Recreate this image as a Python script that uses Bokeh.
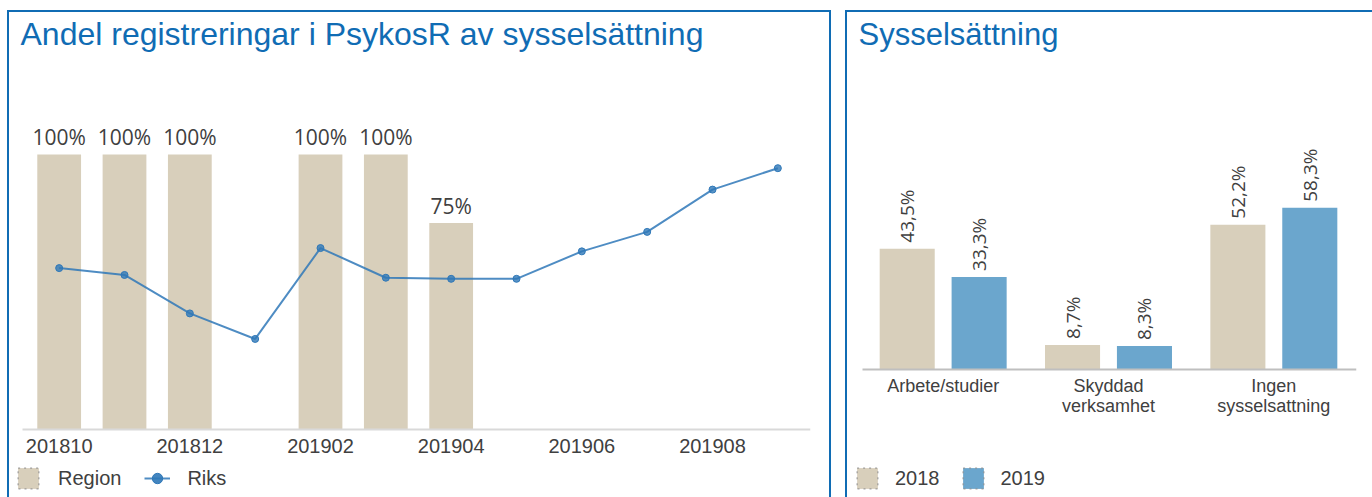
import math
from bokeh.plotting import figure
from bokeh.models import (ColumnDataSource, Range1d, Legend, LegendItem, LinearAxis,
                          FixedTicker)
from bokeh.layouts import row
from bokeh.embed import file_html
from bokeh.resources import INLINE
from bokeh.core.properties import value

# ---------------- data ----------------
months = ["201810", "201811", "201812", "201901", "201902", "201903",
          "201904", "201905", "201906", "201907", "201908", "201909"]
region = [100, 100, 100, None, 100, 100, 75, None, None, None, None, None]
riks = [58.6, 56.1, 42.1, 32.8, 65.9, 55.1, 54.7, 54.7, 64.7, 71.8, 87.2, 95.0]
month_tick_labels = ["201810", "201812", "201902", "201904", "201906", "201908"]

categories = ["Arbete/studier", "Skyddad verksamhet", "Ingen sysselsattning"]
category_labels = ["Arbete/studier", "Skyddad\nverksamhet", "Ingen\nsysselsattning"]
y2018 = [43.5, 8.7, 52.2]
y2019 = [33.3, 8.3, 58.3]

# ---------------- styles ----------------
TAN = "#d8cfbb"
BLUE19 = "#6ba6cd"
LINEBLUE = "#2f78b8"
TITLE_BLUE = "#106cb4"
TXT = "#404040"
FONT = "Liberation Sans"
LBLFONT = "Open Sans"
NAN = float("nan")

mi = list(range(len(months)))

# ---------------- left chart ----------------
p1 = figure(x_range=Range1d(-0.7143, len(months) - 0.5), y_range=Range1d(-24.95, 137.5),
            width=824, height=487, output_backend="svg", toolbar_location=None,
            x_axis_location=None,
            min_border_left=5, min_border_right=21, min_border_top=41, min_border_bottom=0)
p1.title.text = "Andel registreringar i PsykosR av sysselsättning"
p1.title.text_font = FONT
p1.title.text_font_size = "32px"
p1.title.text_font_style = "normal"
p1.title.text_color = TITLE_BLUE
p1.title.align = "left"
p1.title.offset = 8
p1.title.standoff = 0
p1.outline_line_color = None
p1.border_fill_color = None
p1.background_fill_color = None
p1.xgrid.visible = False
p1.ygrid.visible = False
p1.yaxis.visible = False
ax = LinearAxis(fixed_location=0, bounds=(-0.56, 11.58),
                ticker=FixedTicker(ticks=[months.index(m) for m in month_tick_labels]),
                major_label_overrides={months.index(m): m for m in month_tick_labels})
ax.axis_line_color = "#d9d9d9"
ax.axis_line_width = 2
ax.major_tick_line_color = None
ax.minor_tick_line_color = None
ax.major_label_text_font = FONT
ax.major_label_text_font_size = "20px"
ax.major_label_text_color = TXT
ax.major_label_standoff = 4
p1.add_layout(ax, "below")

bx = [i for i, v in zip(mi, region) if v is not None]
bv = [v for v in region if v is not None]
bsrc = ColumnDataSource(dict(x=bx, top=bv, lbl=[f"{v:.0f}%" for v in bv]))
rbar = p1.vbar(x="x", top="top", width=0.67, source=bsrc, fill_color=TAN, line_color=None)
p1.text(x="x", y="top", text="lbl", source=bsrc, text_align="center", text_baseline="bottom",
        y_offset=-3, text_font=value(LBLFONT), text_font_size="21px", text_color=TXT)

lsrc = ColumnDataSource(dict(x=mi, y=riks))
rl = p1.line(x="x", y="y", source=lsrc, line_color=LINEBLUE, line_width=2, line_alpha=0.85)
p1.scatter(x="x", y="y", source=lsrc, size=7, fill_color=LINEBLUE, line_color=LINEBLUE, fill_alpha=0.8)

# legend proxies (NaN data: nothing drawn in the plot)
dreg = p1.vbar(x=[NAN], top=[NAN], width=0.5, fill_color=TAN, line_color="#8c8c8c",
               line_dash="dotted", line_width=1)
driks = p1.scatter(x=[NAN], y=[NAN], size=13, fill_color=LINEBLUE, line_color=LINEBLUE, fill_alpha=0.9)
leg1 = Legend(items=[LegendItem(label="Region", renderers=[dreg]),
                     LegendItem(label="Riks", renderers=[rl, driks])],
              orientation="horizontal", location=(3, 6), padding=0, margin=0,
              spacing=23, label_standoff=17, glyph_width=26, glyph_height=26,
              label_text_font=FONT, label_text_font_size="20px", label_text_color=TXT,
              border_line_color=None, background_fill_alpha=0)
p1.add_layout(leg1, "center")
p1.styles = {"box-shadow": f"inset 2px 0 0 0 {TITLE_BLUE}, inset -2px 0 0 0 {TITLE_BLUE}, inset 0 2px 0 0 {TITLE_BLUE}"}

# ---------------- right chart ----------------
ci = list(range(len(categories)))
p2 = figure(x_range=Range1d(-0.5605, len(categories) - 0.5), y_range=Range1d(-46.46, 114.8),
            width=527, height=487, output_backend="svg", toolbar_location=None,
            x_axis_location=None,
            min_border_left=5, min_border_right=16, min_border_top=41, min_border_bottom=0)
p2.title.text = "Sysselsättning"
p2.title.text_font = FONT
p2.title.text_font_size = "31px"
p2.title.text_font_style = "normal"
p2.title.text_color = TITLE_BLUE
p2.title.align = "left"
p2.title.offset = 8
p2.title.standoff = 0
p2.outline_line_color = None
p2.border_fill_color = None
p2.background_fill_color = None
p2.xgrid.visible = False
p2.ygrid.visible = False
p2.yaxis.visible = False
ax2 = LinearAxis(fixed_location=0, bounds=(-0.488, 2.5), ticker=FixedTicker(ticks=ci),
                 major_label_overrides=dict(zip(ci, category_labels)))
ax2.axis_line_color = "#bfbfbf"
ax2.axis_line_width = 2
ax2.major_tick_line_color = None
ax2.minor_tick_line_color = None
ax2.major_label_text_font = FONT
ax2.major_label_text_font_size = "18px"
ax2.major_label_text_color = TXT
ax2.major_label_text_line_height = 1.0
ax2.major_label_standoff = 1
p2.add_layout(ax2, "below")

x18 = [i - 0.2175 for i in ci]
x19 = [i + 0.2175 for i in ci]
csrc = ColumnDataSource(dict(x18=x18, x19=x19, y18=y2018, y19=y2019,
                             l18=[f"{v:.1f}%".replace(".", ",") for v in y2018],
                             l19=[f"{v:.1f}%".replace(".", ",") for v in y2019]))
b18 = p2.vbar(x="x18", top="y18", width=0.333, source=csrc, fill_color=TAN, line_color=None)
b19 = p2.vbar(x="x19", top="y19", width=0.333, source=csrc, fill_color=BLUE19, line_color=None)
p2.text(x="x18", y="y18", text="l18", source=csrc,
        angle=math.pi / 2, text_align="left", text_baseline="middle", y_offset=-6,
        text_font=value(LBLFONT), text_font_size="19px", text_color=TXT)
p2.text(x="x19", y="y19", text="l19", source=csrc,
        angle=math.pi / 2, text_align="left", text_baseline="middle", y_offset=-6,
        text_font=value(LBLFONT), text_font_size="19px", text_color=TXT)

d18 = p2.vbar(x=[NAN], top=[NAN], width=0.3, fill_color=TAN, line_color="#8c8c8c",
              line_dash="dotted", line_width=1)
d19 = p2.vbar(x=[NAN], top=[NAN], width=0.3, fill_color=BLUE19, line_color="#8c8c8c",
              line_dash="dotted", line_width=1)
leg2 = Legend(items=[LegendItem(label="2018", renderers=[d18]),
                     LegendItem(label="2019", renderers=[d19])],
              orientation="horizontal", location=(4, 6), padding=0, margin=0,
              spacing=20, label_standoff=15, glyph_width=26, glyph_height=26,
              label_text_font=FONT, label_text_font_size="20px", label_text_color=TXT,
              border_line_color=None, background_fill_alpha=0)
p2.add_layout(leg2, "center")
p2.styles = {"box-shadow": f"inset 2px 0 0 0 {TITLE_BLUE}, inset 0 2px 0 0 {TITLE_BLUE}"}

layout = row(p1, p2, spacing=14, margin=(10, 0, 0, 7))
open("out.html", "w").write(file_html(layout, INLINE))
